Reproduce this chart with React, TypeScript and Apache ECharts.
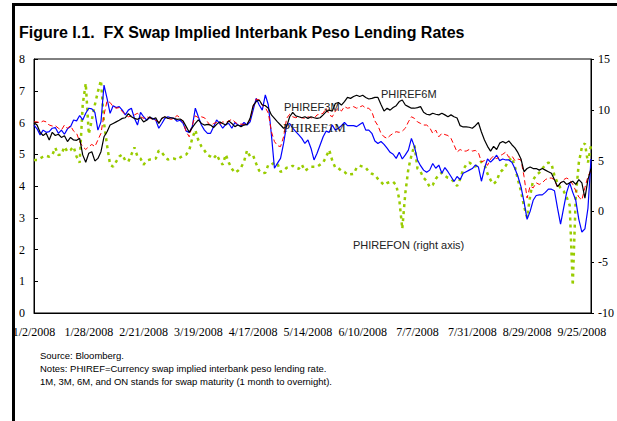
import React, { useEffect, useRef } from "react";
import * as echarts from "echarts";

const tickLabels = [
  "1/2/2008", "1/28/2008", "2/21/2008", "3/19/2008", "4/17/2008", "5/14/2008",
  "6/10/2008", "7/7/2008", "7/31/2008", "8/29/2008", "9/25/2008",
];
const labelStep = 18;

const phiref6m = [
  5.99, 5.92, 5.69, 5.59, 5.66, 5.45, 5.69, 5.59, 5.63, 5.53,
  5.58, 5.40, 5.53, 5.45, 5.44, 5.50, 4.98, 4.75, 5.03, 5.08,
  4.79, 4.87, 5.08, 5.55, 5.71, 5.92, 5.97, 6.02, 6.07, 6.13,
  6.15, 6.28, 6.18, 6.13, 6.10, 6.15, 6.02, 6.07, 6.18, 6.10,
  6.15, 5.97, 6.13, 6.18, 6.13, 6.15, 6.13,
  6.10, 6.11, 6.05, 5.87, 5.69, 5.84, 5.97, 6.08, 5.97, 5.92,
  5.94, 5.92, 5.84, 5.94, 6.02, 5.97, 5.92, 6.05, 5.97, 5.87,
  5.92, 5.87, 5.92, 5.94, 6.13, 6.53, 6.66, 6.71, 6.55, 6.53,
  6.45, 6.24, 6.13, 6.02, 5.92, 5.82, 5.87, 6.18, 6.32, 6.21,
  6.18, 6.15, 6.18, 6.13, 6.18, 6.15,
  6.13, 6.15, 6.24, 6.34, 6.39, 6.36, 6.60, 6.63, 6.55, 6.66,
  6.79, 6.76, 6.82, 6.86, 6.82, 6.86, 6.79, 6.74, 6.76, 6.79,
  6.79, 6.57, 6.36, 6.45, 6.39, 6.47, 6.53, 6.66, 6.71, 6.55,
  6.50, 6.45, 6.45, 6.47, 6.50, 6.32, 6.26, 6.24, 6.29, 6.26,
  6.24, 6.29, 6.24, 6.18, 6.24, 6.18,
  6.14, 5.90, 5.86, 5.86, 5.85, 5.82, 5.90, 6.00,
  5.70, 5.45, 5.25, 5.10, 5.25, 5.15, 5.35, 5.40, 5.35, 5.42,
  5.30, 5.20, 5.05, 4.85, 4.45, 4.55, 4.60, 4.55, 4.55, 4.50,
  4.55, 4.50, 4.45, 4.40, 4.20, 3.98, 4.10, 4.15, 4.05, 4.10,
  4.15, 4.05, 4.20, 4.10, 3.62, 4.20, 4.55,
];

const phiref3m = [
  6.02, 6.02, 5.99, 6.05, 6.02, 5.92, 5.89, 5.90, 5.82, 5.76,
  5.92, 5.82, 5.90, 5.73, 5.66, 5.40, 5.24, 5.15, 5.24, 5.31,
  5.24, 5.45, 5.66, 6.24, 6.68, 6.63, 6.50, 6.45, 6.47, 6.34,
  6.26, 6.18, 6.21, 6.24, 6.29, 6.18, 6.13, 6.18, 6.15, 6.10,
  6.07, 6.02, 6.13, 6.18, 6.13, 6.10, 6.13,
  6.22, 6.15, 6.02, 5.71, 5.55, 5.92, 6.21, 6.15, 6.18, 6.15,
  6.02, 5.90, 5.97, 6.00, 5.94, 6.02, 6.00, 6.05, 6.10, 6.02,
  5.94, 5.95, 5.94, 5.97, 6.08, 6.50, 6.74, 6.71, 6.55, 6.47,
  6.29, 5.71, 5.40, 5.27, 5.24, 5.55, 6.13, 6.26, 6.18, 6.15,
  6.18, 6.15, 6.13, 6.18, 6.15, 6.13,
  6.24, 6.26, 6.29, 6.45, 6.24, 6.18, 6.36, 6.45, 6.36, 6.50,
  6.45, 6.47, 6.50, 6.45, 6.49, 6.53, 6.45, 6.45, 6.34, 6.05,
  5.90, 5.66, 5.55, 5.50, 5.59, 5.66, 5.71, 5.69, 5.73, 5.82,
  6.02, 6.18, 6.13, 6.02, 5.97, 5.92, 5.92, 5.84, 5.66, 5.76,
  5.55, 5.66, 5.62, 5.59, 5.50, 5.29,
  5.07, 5.15, 5.10, 5.10, 5.15, 5.10, 5.12, 5.05, 4.76, 4.80,
  4.65, 4.85, 4.95, 4.85, 4.95, 5.00, 5.07, 4.90, 4.95, 4.80,
  4.85, 4.82, 4.30, 3.62, 4.00, 3.94, 4.10, 4.05, 4.10, 4.20,
  4.25, 4.25, 4.20, 3.95, 4.10, 4.20, 4.25, 4.20, 4.05, 3.85,
  3.65, 3.56, 3.95, 4.30, 4.50,
];

const phiref1m = [
  5.92, 5.80, 5.61, 5.76, 5.69, 5.71, 5.82, 5.84, 5.66, 5.76,
  5.63, 5.80, 5.87, 6.08, 6.05, 6.22, 6.08, 6.29, 6.45, 6.43,
  6.32, 5.76, 6.02, 7.18, 6.76, 6.29, 6.53, 6.47, 6.50, 6.39,
  6.24, 6.39, 6.45, 6.13, 5.92, 6.32, 6.18, 6.08, 6.15, 6.13,
  6.08, 5.82, 5.97, 6.13, 6.18, 6.15, 6.13,
  6.04, 6.07, 5.97, 5.73, 5.69, 5.87, 6.45, 6.18, 5.92, 5.76,
  5.66, 5.66, 5.87, 6.08, 5.97, 5.82, 5.94, 5.97, 5.82, 6.00,
  5.92, 5.89, 6.00, 5.92, 6.02, 6.39, 6.76, 6.55, 6.39, 6.87,
  6.55, 5.61, 4.56, 4.72, 4.87, 5.34, 5.92, 5.97, 5.82, 5.71,
  5.61, 5.50, 5.34, 5.45, 5.19, 4.82,
  5.03, 5.29, 5.55, 5.73, 5.69, 5.92, 5.76, 5.82, 5.90, 6.00,
  5.90, 5.90, 5.90, 5.87, 5.94, 6.00, 5.76, 5.76, 5.66, 5.42,
  5.34, 5.40, 5.31, 5.19, 5.06, 5.00, 4.87, 5.06, 4.85, 4.98,
  5.13, 5.50, 5.24, 4.82, 4.64, 4.50, 4.43, 4.50, 4.71, 4.56,
  4.66, 4.40, 4.58, 4.45, 4.30, 4.14,
  4.30, 4.20, 4.40, 4.45, 4.50, 4.55, 4.66, 4.60, 4.15, 4.55,
  4.85, 4.75, 4.85, 4.97, 4.80, 4.85, 4.82, 4.82, 4.75, 4.55,
  4.30, 3.97, 3.50, 2.95, 3.20, 3.55, 3.70, 3.72, 3.72, 3.80,
  3.90, 3.90, 3.85, 3.30, 2.80, 3.30, 3.80, 4.10, 3.80, 3.55,
  2.95, 2.55, 2.65, 3.30, 4.85,
];

const phirefON = [
  5.06, 5.06, 5.22, 5.38, 5.48, 5.38, 5.55, 6.27, 5.55, 5.60,
  6.37, 5.88, 6.04, 6.37, 5.38, 4.80, 10.5, 12.6, 7.6, 9.0,
  10.5, 11.8, 12.9, 8.7, 6.5, 4.6, 4.4, 4.9, 5.4, 5.6,
  5.0, 4.9, 5.6, 6.3, 5.4, 5.2, 4.6, 5.0, 5.1, 5.1,
  5.2, 6.0, 5.8, 5.4, 5.1, 5.2, 5.2,
  5.1, 5.3, 5.5, 5.6, 6.0, 7.2, 8.0, 7.0, 6.4, 6.0,
  5.55, 5.4, 5.2, 5.6, 5.0, 4.6, 5.6, 4.8, 4.2, 3.8,
  4.0, 4.3, 4.9, 6.0, 5.4, 5.5, 4.7, 4.0, 3.75, 3.8,
  4.6, 4.6, 4.8, 4.7, 3.9, 4.0, 4.3, 4.3, 4.5, 4.3,
  4.2, 4.6, 4.0, 4.2, 4.4, 4.4,
  4.4, 4.6, 4.8, 5.4, 6.04, 5.0, 4.3, 4.25, 4.0, 3.9,
  3.6, 3.65, 3.7, 4.3, 4.5, 4.4, 4.3, 3.9, 3.7, 3.6,
  3.2, 2.9, 2.6, 2.8, 2.9, 2.9, 2.6, 1.2, -1.7, 1.8,
  4.2, 5.5, 6.5, 4.2, 3.9, 3.3, 3.0, 2.4, 2.6, 3.2,
  3.6, 3.8, 3.5, 3.3, 3.2, 2.9,
  2.5, 3.2, 4.1, 4.6, 4.8, 4.6, 4.4, 4.7, 4.9, 4.6,
  3.7, 3.1, 2.7, 3.0, 3.8, 4.1, 4.5, 5.0, 5.3, 4.4,
  3.1, 2.0, 0.5, -0.6, 1.5, 3.1, 3.6, 3.8, 4.2, 4.6,
  4.8, 4.7, 3.5, 2.8, 2.3, 2.0, 1.4, 0.6, -7.3, 1.5,
  4.8, 6.3, 6.7, 4.8, 6.5,
];

const noteLines = [
  "Source: Bloomberg.",
  "Notes: PHIREF=Currency swap implied interbank peso lending rate.",
  "1M, 3M, 6M, and ON stands for swap maturity (1 month to overnight).",
];

const SANS = "Liberation Sans";
const SERIF = "Liberation Serif";

export default function App() {
  const ref = useRef<HTMLDivElement>(null);

  useEffect(() => {
    if (!ref.current) return;
    const chart = echarts.init(ref.current, undefined, { renderer: "svg" });
    const categories = phiref6m.map((_, i) => String(i));

    chart.setOption({
      animation: false,
      backgroundColor: "#ffffff",
      title: {
        text: "Figure I.1.  FX Swap Implied Interbank Peso Lending Rates",
        left: 19,
        top: 24,
        padding: 0,
        textStyle: { fontFamily: SANS, fontWeight: "bold", fontSize: 16, color: "#000" },
      },
      grid: {
        left: 34,
        right: 26,
        top: 59,
        bottom: 108,
        show: true,
        borderColor: "#000",
        borderWidth: 1,
        backgroundColor: "transparent",
      },
      xAxis: {
        type: "category",
        data: categories,
        boundaryGap: false,
        axisLine: { lineStyle: { color: "#000", width: 1 } },
        axisTick: { show: false },
        splitLine: { show: false },
        axisLabel: {
          interval: labelStep - 1,
          margin: 13,
          fontFamily: SERIF,
          fontSize: 12,
          color: "#000",
          formatter: (_v: string, idx: number) =>
            idx % labelStep === 0 ? tickLabels[idx / labelStep] ?? "" : "",
        },
      },
      yAxis: [
        {
          type: "value",
          min: 0,
          max: 8,
          interval: 1,
          position: "left",
          axisLine: { show: true, lineStyle: { color: "#000", width: 1 } },
          axisTick: { show: true, inside: true, length: 4, lineStyle: { color: "#000" } },
          splitLine: { show: false },
          axisLabel: { margin: 9, fontFamily: SERIF, fontSize: 12, color: "#000" },
        },
        {
          type: "value",
          min: -10,
          max: 15,
          interval: 5,
          position: "right",
          axisLine: { show: true, lineStyle: { color: "#000", width: 1 } },
          axisTick: { show: true, inside: false, length: 3, lineStyle: { color: "#000" } },
          splitLine: { show: false },
          axisLabel: { margin: 7, fontFamily: SERIF, fontSize: 12, color: "#000" },
        },
      ],
      series: [
        {
          name: "PHIREFON",
          type: "line",
          yAxisIndex: 1,
          data: phirefON,
          symbol: "none",
          lineStyle: { color: "#99cc00", width: 2.5, type: [3, 4], cap: "butt" },
        },
        {
          name: "PHIREF1M",
          type: "line",
          data: phiref1m,
          symbol: "none",
          lineStyle: { color: "#0000ff", width: 1.2 },
        },
        {
          name: "PHIREF3M",
          type: "line",
          data: phiref3m,
          symbol: "none",
          lineStyle: { color: "#ff0000", width: 1, type: [5, 3] },
        },
        {
          name: "PHIREF6M",
          type: "line",
          data: phiref6m,
          symbol: "none",
          lineStyle: { color: "#000000", width: 1.2 },
        },
      ],
      graphic: [
        { type: "line", shape: { x1: 13.5, y1: 3, x2: 13.5, y2: 421 }, style: { stroke: "#000", lineWidth: 3 } },
        { type: "line", shape: { x1: 12, y1: 4.5, x2: 617, y2: 4.5 }, style: { stroke: "#000", lineWidth: 3 } },
        { type: "text", left: 381, top: 88, z: 100, style: { text: "PHIREF6M", fontFamily: SANS, fontSize: 11, fill: "#222" } },
        { type: "text", left: 284, top: 101, z: 100, style: { text: "PHIREF3M", fontFamily: SANS, fontSize: 11, fill: "#222" } },
        { type: "text", left: 283, top: 121, z: 100, style: { text: "PHIREF1M", fontFamily: SERIF, fontSize: 13, fill: "#222" } },
        { type: "text", left: 353, top: 239, z: 100, style: { text: "PHIREFON (right axis)", fontFamily: SANS, fontSize: 11, fill: "#222" } },
        ...noteLines.map((t, k) => ({
          type: "text",
          left: 40,
          top: 350 + k * 13,
          style: { text: t, fontFamily: SANS, fontSize: 9.5, fill: "#000" },
        })),
      ],
    });
    return () => chart.dispose();
  }, []);

  return (
    <div style={{ position: "fixed", left: 0, top: 0, width: 617, height: 421, background: "#fff" }}>
      <div ref={ref} style={{ width: 617, height: 421 }} />
    </div>
  );
}
